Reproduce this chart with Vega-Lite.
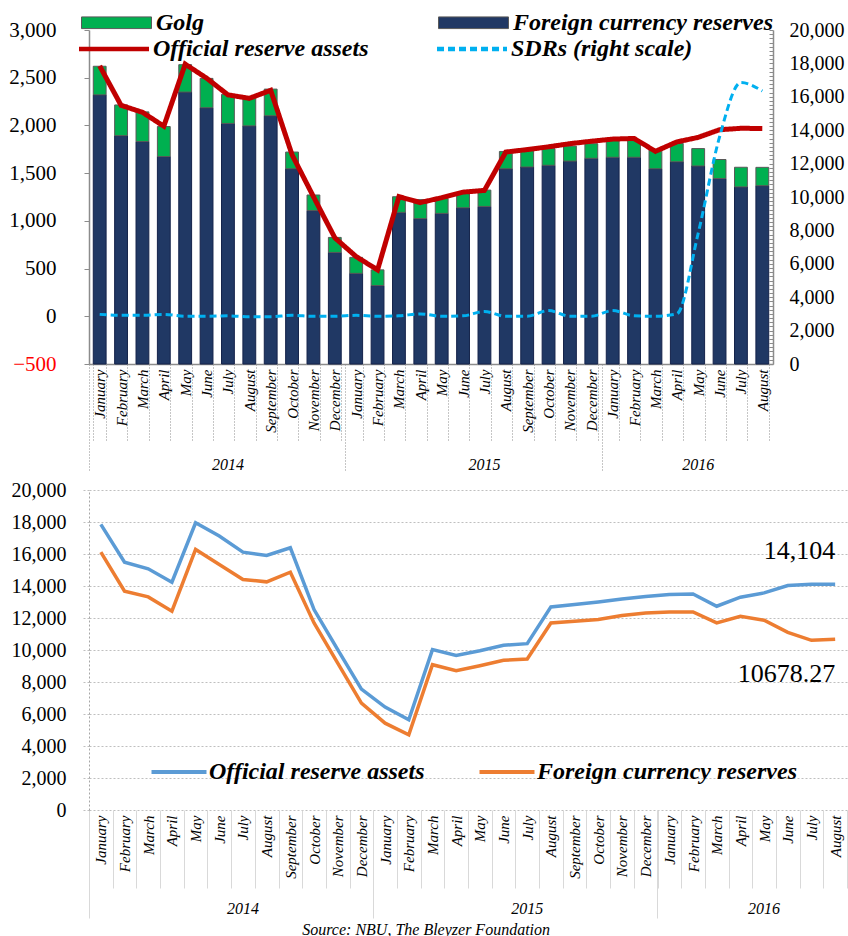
{
  "$schema": "https://vega.github.io/schema/vega-lite/v6.json",
  "padding": {"left": 8, "top": 10, "right": 0, "bottom": 0},
  "config": {
    "font": "Liberation Serif",
    "view": {"stroke": null},
    "axis": {"labelFont": "Liberation Serif", "labelColor": "black"},
    "legend": {"labelFont": "Liberation Serif", "labelColor": "black", "padding": 0}
  },
  "datasets": {
    "m": [
      {"k": "2014-01", "ora": 17850, "fx": 16117, "top": 17829, "sdr": 20},
      {"k": "2014-02", "ora": 15490, "fx": 13674, "top": 15512, "sdr": 10},
      {"k": "2014-03", "ora": 15073, "fx": 13320, "top": 15097, "sdr": 10},
      {"k": "2014-04", "ora": 14238, "fx": 12422, "top": 14219, "sdr": 20},
      {"k": "2014-05", "ora": 17954, "fx": 16284, "top": 17923, "sdr": 0},
      {"k": "2014-06", "ora": 17119, "fx": 15345, "top": 17102, "sdr": 0},
      {"k": "2014-07", "ora": 16117, "fx": 14405, "top": 16142, "sdr": 5},
      {"k": "2014-08", "ora": 15908, "fx": 14259, "top": 15954, "sdr": -5},
      {"k": "2014-09", "ora": 16388, "fx": 14864, "top": 16461, "sdr": -5},
      {"k": "2014-10", "ora": 12526, "fx": 11691, "top": 12691, "sdr": 10},
      {"k": "2014-11", "ora": 10021, "fx": 9186, "top": 10120, "sdr": 0},
      {"k": "2014-12", "ora": 7557, "fx": 6681, "top": 7580, "sdr": 0},
      {"k": "2015-01", "ora": 6430, "fx": 5428, "top": 6386, "sdr": 10},
      {"k": "2015-02", "ora": 5637, "fx": 4697, "top": 5637, "sdr": 0},
      {"k": "2015-03", "ora": 10021, "fx": 9081, "top": 10015, "sdr": 5},
      {"k": "2015-04", "ora": 9666, "fx": 8706, "top": 9843, "sdr": 25},
      {"k": "2015-05", "ora": 9958, "fx": 9019, "top": 9917, "sdr": 0},
      {"k": "2015-06", "ora": 10292, "fx": 9353, "top": 10250, "sdr": 5},
      {"k": "2015-07", "ora": 10397, "fx": 9436, "top": 10412, "sdr": 50},
      {"k": "2015-08", "ora": 12693, "fx": 11691, "top": 12727, "sdr": 0},
      {"k": "2015-09", "ora": 12839, "fx": 11796, "top": 12796, "sdr": 0},
      {"k": "2015-10", "ora": 13006, "fx": 11900, "top": 12900, "sdr": 60},
      {"k": "2015-11", "ora": 13194, "fx": 12150, "top": 13048, "sdr": 0},
      {"k": "2015-12", "ora": 13340, "fx": 12317, "top": 13192, "sdr": 0},
      {"k": "2016-01", "ora": 13466, "fx": 12380, "top": 13380, "sdr": 60},
      {"k": "2016-02", "ora": 13507, "fx": 12380, "top": 13378, "sdr": 5},
      {"k": "2016-03", "ora": 12735, "fx": 11691, "top": 12848, "sdr": 0},
      {"k": "2016-04", "ora": 13299, "fx": 12109, "top": 13209, "sdr": 25},
      {"k": "2016-05", "ora": 13570, "fx": 11858, "top": 12900, "sdr": 870},
      {"k": "2016-06", "ora": 14029, "fx": 11107, "top": 12245, "sdr": 1880},
      {"k": "2016-07", "ora": 14113, "fx": 10605, "top": 11781, "sdr": 2450},
      {"k": "2016-08", "ora": 14104, "fx": 10678.27, "top": 11775, "sdr": 2360}
    ]
  },
  "title": {"text": "Source: NBU, The Bleyzer Foundation", "orient": "bottom", "anchor": "middle", "fontSize": 16, "fontStyle": "italic", "fontWeight": "normal", "font": "Liberation Serif", "offset": 3, "dx": -2, "color": "black"},
  "columns": 1,
  "align": "none",
  "spacing": 8,
  "resolve": {"legend": {"color": "independent", "fill": "independent", "stroke": "independent", "strokeDash": "independent"}},
  "concat": [
    {
      "width": 684,
      "height": 334,
      "data": {"name": "m"},
      "resolve": {"scale": {"y": "independent", "x": "shared"}, "axis": {"x": "independent", "y": "independent"}},
      "layer": [
        {
          "mark": {"type": "bar", "stroke": "#14224a", "strokeWidth": 1},
          "encoding": {
            "x": {"field": "k", "type": "ordinal", "title": null,
              "scale": {"type": "band", "paddingInner": 0.4, "paddingOuter": 0.2},
              "axis": {"orient": "bottom", "title": null, "labelExpr": "['January','February','March','April','May','June','July','August','September','October','November','December'][toNumber(substring(datum.value,5,7))-1]", "labelAngle": 270, "labelAlign": "right", "labelBaseline": "middle", "labelFontSize": 15, "labelFontStyle": "italic", "tickBand": "extent", "tickSize": 77, "tickDash": [1, 2], "tickColor": "#8c8c8c", "labelPadding": -72, "domainColor": "#8c8c8c", "domainWidth": 1.5, "labelOverlap": false, "labelBound": false, "labelFlush": false}},
            "y": {"field": "fx", "type": "quantitative", "stack": null, "title": null,
              "scale": {"domain": [0, 20000], "nice": false},
              "axis": {"orient": "right", "title": null, "values": [0, 250, 500, 750, 1000, 1250, 1500, 1750, 2000, 2250, 2500, 2750, 3000, 3250, 3500, 3750, 4000, 4250, 4500, 4750, 5000, 5250, 5500, 5750, 6000, 6250, 6500, 6750, 7000, 7250, 7500, 7750, 8000, 8250, 8500, 8750, 9000, 9250, 9500, 9750, 10000, 10250, 10500, 10750, 11000, 11250, 11500, 11750, 12000, 12250, 12500, 12750, 13000, 13250, 13500, 13750, 14000, 14250, 14500, 14750, 15000, 15250, 15500, 15750, 16000, 16250, 16500, 16750, 17000, 17250, 17500, 17750, 18000, 18250, 18500, 18750, 19000, 19250, 19500, 19750, 20000], "labelExpr": "datum.value % 2000 == 0 ? format(datum.value, ',.0f') : ''", "labelFontSize": 20, "ticks": true, "tickSize": -4, "tickColor": "#8c8c8c", "labelPadding": 20, "domainColor": "#8c8c8c", "domainWidth": 1.5, "grid": false, "labelOverlap": false}},
            "fill": {"datum": "Foreign currency reserves",
              "scale": {"domain": ["Golg", "Foreign currency reserves"], "range": ["#00b050", "#203864"]},
              "legend": {"orient": "none", "legendX": 15, "legendY": -20, "direction": "horizontal", "title": null, "symbolType": "M-3,-0.5H3V0.5H-3Z", "symbolSize": 544, "symbolStrokeColor": "#595959", "symbolStrokeWidth": 1, "labelFontSize": 24, "labelFontStyle": "italic", "labelFontWeight": "bold", "labelLimit": 400, "columnPadding": 232, "labelOffset": 27}}
          }
        },
        {
          "mark": {"type": "bar", "stroke": "#595959", "strokeWidth": 1},
          "encoding": {
            "x": {"field": "k", "type": "ordinal", "title": null,
              "scale": {"type": "band", "paddingInner": 0.4, "paddingOuter": 0.2}, "axis": null},
            "y": {"field": "top", "type": "quantitative", "title": null,
              "scale": {"domain": [0, 20000], "nice": false}, "axis": null},
            "y2": {"field": "fx"},
            "fill": {"datum": "Golg"}
          }
        },
        {
          "mark": {"type": "line", "strokeWidth": 5, "strokeJoin": "miter"},
          "encoding": {
            "x": {"field": "k", "type": "ordinal", "title": null, "bandPosition": 0.5,
              "scale": {"type": "band", "paddingInner": 0.4, "paddingOuter": 0.2},
              "axis": {"orient": "bottom", "title": null, "values": ["2014-07", "2015-07", "2016-05"], "bandPosition": -0.3333, "labelExpr": "substring(datum.value,0,4)", "ticks": false, "domain": false, "labelAngle": 0, "labelFontSize": 16, "labelFontStyle": "italic", "offset": 92, "labelPadding": 0, "labelBaseline": "top", "labelAlign": "center"}},
            "y": {"field": "ora", "type": "quantitative", "title": null,
              "scale": {"domain": [0, 20000], "nice": false}, "axis": null},
            "stroke": {"datum": "Official reserve assets",
              "scale": {"domain": ["Official reserve assets", "SDRs (right scale)"], "range": ["#c00000", "#00b0f0"]},
              "legend": {"orient": "none", "legendX": 11, "legendY": 5, "direction": "horizontal", "title": null, "symbolType": "M-3,0H3", "symbolSize": 544, "symbolStrokeWidth": 4.5, "labelFontSize": 24, "labelFontStyle": "italic", "labelFontWeight": "bold", "labelLimit": 400, "columnPadding": 59, "labelOffset": 25}},
            "strokeDash": {"datum": "Official reserve assets",
              "scale": {"domain": ["Official reserve assets", "SDRs (right scale)"], "range": [[1, 0], [7, 4]]},
              "legend": {"orient": "none", "legendX": 11, "legendY": 5, "direction": "horizontal", "title": null, "symbolType": "M-3,0H3", "symbolSize": 544, "symbolStrokeWidth": 4.5, "labelFontSize": 24, "labelFontStyle": "italic", "labelFontWeight": "bold", "labelLimit": 400, "columnPadding": 59, "labelOffset": 25}}
          }
        },
        {
          "mark": {"type": "line", "strokeWidth": 3, "interpolate": "monotone"},
          "encoding": {
            "x": {"field": "k", "type": "ordinal", "title": null, "bandPosition": 0.5,
              "scale": {"type": "band", "paddingInner": 0.4, "paddingOuter": 0.2},
              "axis": {"orient": "bottom", "title": null, "values": ["2014-01", "2015-01", "2016-01"], "bandPosition": -0.3333, "labels": false, "domain": false, "tickSize": 107, "tickDash": [1, 2], "tickColor": "#8c8c8c"}},
            "y": {"field": "sdr", "type": "quantitative", "title": null,
              "scale": {"domain": [-500, 3000], "nice": false, "zero": false},
              "axis": {"orient": "left", "title": null, "values": [-500, 0, 500, 1000, 1500, 2000, 2500, 3000], "format": ",.0f", "labelFontSize": 21, "ticks": true, "tickSize": 5, "tickColor": "#8c8c8c", "labelPadding": 28, "domainColor": "#8c8c8c", "domainWidth": 1.5, "grid": false, "labelOverlap": false, "labelColor": {"condition": {"test": "datum.value < 0", "value": "#ff0000"}, "value": "black"}}},
            "stroke": {"datum": "SDRs (right scale)"},
            "strokeDash": {"datum": "SDRs (right scale)"}
          }
        }
      ]
    },
    {
      "width": 758,
      "height": 320,
      "data": {"name": "m"},
      "resolve": {"axis": {"x": "independent"}},
      "layer": [
        {
          "mark": {"type": "line", "strokeWidth": 3.5},
          "encoding": {
            "x": {"field": "k", "type": "ordinal", "title": null, "bandPosition": 0.5,
              "scale": {"type": "band", "paddingInner": 0, "paddingOuter": 0},
              "axis": {"orient": "bottom", "title": null, "labelExpr": "['January','February','March','April','May','June','July','August','September','October','November','December'][toNumber(substring(datum.value,5,7))-1]", "labelAngle": 270, "labelAlign": "right", "labelBaseline": "middle", "labelFontSize": 15, "labelFontStyle": "italic", "tickBand": "extent", "tickSize": 78, "tickColor": "#d9d9d9", "labelPadding": -73, "domain": false, "labelOverlap": false, "labelBound": false, "labelFlush": false}},
            "y": {"field": "ora", "type": "quantitative", "title": null,
              "scale": {"domain": [0, 20000], "nice": false},
              "axis": {"title": null, "values": [0, 2000, 4000, 6000, 8000, 10000, 12000, 14000, 16000, 18000, 20000], "format": ",.0f", "labelFontSize": 20, "labelOverlap": false, "grid": true, "gridDash": [2, 2], "gridColor": "#bfbfbf", "tickSize": 6, "tickColor": "#bfbfbf", "tickDash": [2, 2], "labelPadding": 17, "domainDash": [2, 2], "domainColor": "#a6a6a6"}},
            "color": {"datum": "Official reserve assets",
              "scale": {"domain": ["Official reserve assets", "Foreign currency reserves"], "range": ["#5b9bd5", "#ed7d31"]},
              "legend": {"orient": "none", "legendX": 78, "legendY": 270, "direction": "horizontal", "title": null, "symbolType": "M-3,0H3", "symbolSize": 336, "symbolStrokeWidth": 4, "labelFontSize": 24, "labelFontStyle": "italic", "labelFontWeight": "bold", "labelLimit": 400, "columnPadding": 46, "labelOffset": 18}}
          }
        },
        {
          "mark": {"type": "line", "strokeWidth": 3.5},
          "encoding": {
            "x": {"field": "k", "type": "ordinal", "title": null, "bandPosition": 0.5,
              "scale": {"type": "band", "paddingInner": 0, "paddingOuter": 0},
              "axis": {"orient": "bottom", "title": null, "values": ["2014-07", "2015-07", "2016-05"], "bandPosition": 0, "labelExpr": "substring(datum.value,0,4)", "ticks": false, "domain": false, "labelAngle": 0, "labelFontSize": 16, "labelFontStyle": "italic", "offset": 90, "labelPadding": 0, "labelBaseline": "top", "labelAlign": "center"}},
            "y": {"field": "fx", "type": "quantitative", "title": null,
              "scale": {"domain": [0, 20000], "nice": false},
              "axis": {"title": null, "values": [0, 2000, 4000, 6000, 8000, 10000, 12000, 14000, 16000, 18000, 20000], "format": ",.0f", "labelFontSize": 20, "labelOverlap": false, "grid": true, "gridDash": [2, 2], "gridColor": "#bfbfbf", "tickSize": 6, "tickColor": "#bfbfbf", "tickDash": [2, 2], "labelPadding": 17, "domainDash": [2, 2], "domainColor": "#a6a6a6"}},
            "color": {"datum": "Foreign currency reserves"}
          }
        },
        {
          "transform": [{"filter": "datum.k == '2016-08'"}],
          "mark": {"type": "text", "align": "right", "baseline": "middle", "dy": -33, "fontSize": 26, "font": "Liberation Serif", "color": "black"},
          "encoding": {
            "x": {"field": "k", "type": "ordinal", "title": null, "bandPosition": 0.5,
              "scale": {"type": "band", "paddingInner": 0, "paddingOuter": 0},
              "axis": {"orient": "bottom", "title": null, "values": ["2014-01", "2015-01", "2016-01"], "bandPosition": 0, "labels": false, "domain": false, "tickSize": 108, "tickColor": "#d9d9d9"}},
            "y": {"field": "ora", "type": "quantitative", "title": null,
              "scale": {"domain": [0, 20000], "nice": false},
              "axis": {"title": null, "values": [0, 2000, 4000, 6000, 8000, 10000, 12000, 14000, 16000, 18000, 20000], "format": ",.0f", "labelFontSize": 20, "labelOverlap": false, "grid": true, "gridDash": [2, 2], "gridColor": "#bfbfbf", "tickSize": 6, "tickColor": "#bfbfbf", "tickDash": [2, 2], "labelPadding": 17, "domainDash": [2, 2], "domainColor": "#a6a6a6"}},
            "text": {"field": "ora", "type": "quantitative", "format": ",.0f"}
          }
        },
        {
          "transform": [{"filter": "datum.k == '2016-08'"}],
          "mark": {"type": "text", "align": "right", "baseline": "middle", "dy": 35, "fontSize": 26, "font": "Liberation Serif", "color": "black"},
          "encoding": {
            "x": {"field": "k", "type": "ordinal", "title": null, "bandPosition": 0.5,
              "scale": {"type": "band", "paddingInner": 0, "paddingOuter": 0}, "axis": null},
            "y": {"field": "fx", "type": "quantitative", "title": null,
              "scale": {"domain": [0, 20000], "nice": false},
              "axis": {"title": null, "values": [0, 2000, 4000, 6000, 8000, 10000, 12000, 14000, 16000, 18000, 20000], "format": ",.0f", "labelFontSize": 20, "labelOverlap": false, "grid": true, "gridDash": [2, 2], "gridColor": "#bfbfbf", "tickSize": 6, "tickColor": "#bfbfbf", "tickDash": [2, 2], "labelPadding": 17, "domainDash": [2, 2], "domainColor": "#a6a6a6"}},
            "text": {"field": "fx", "type": "quantitative", "format": ".2f"}
          }
        }
      ]
    }
  ]
}
